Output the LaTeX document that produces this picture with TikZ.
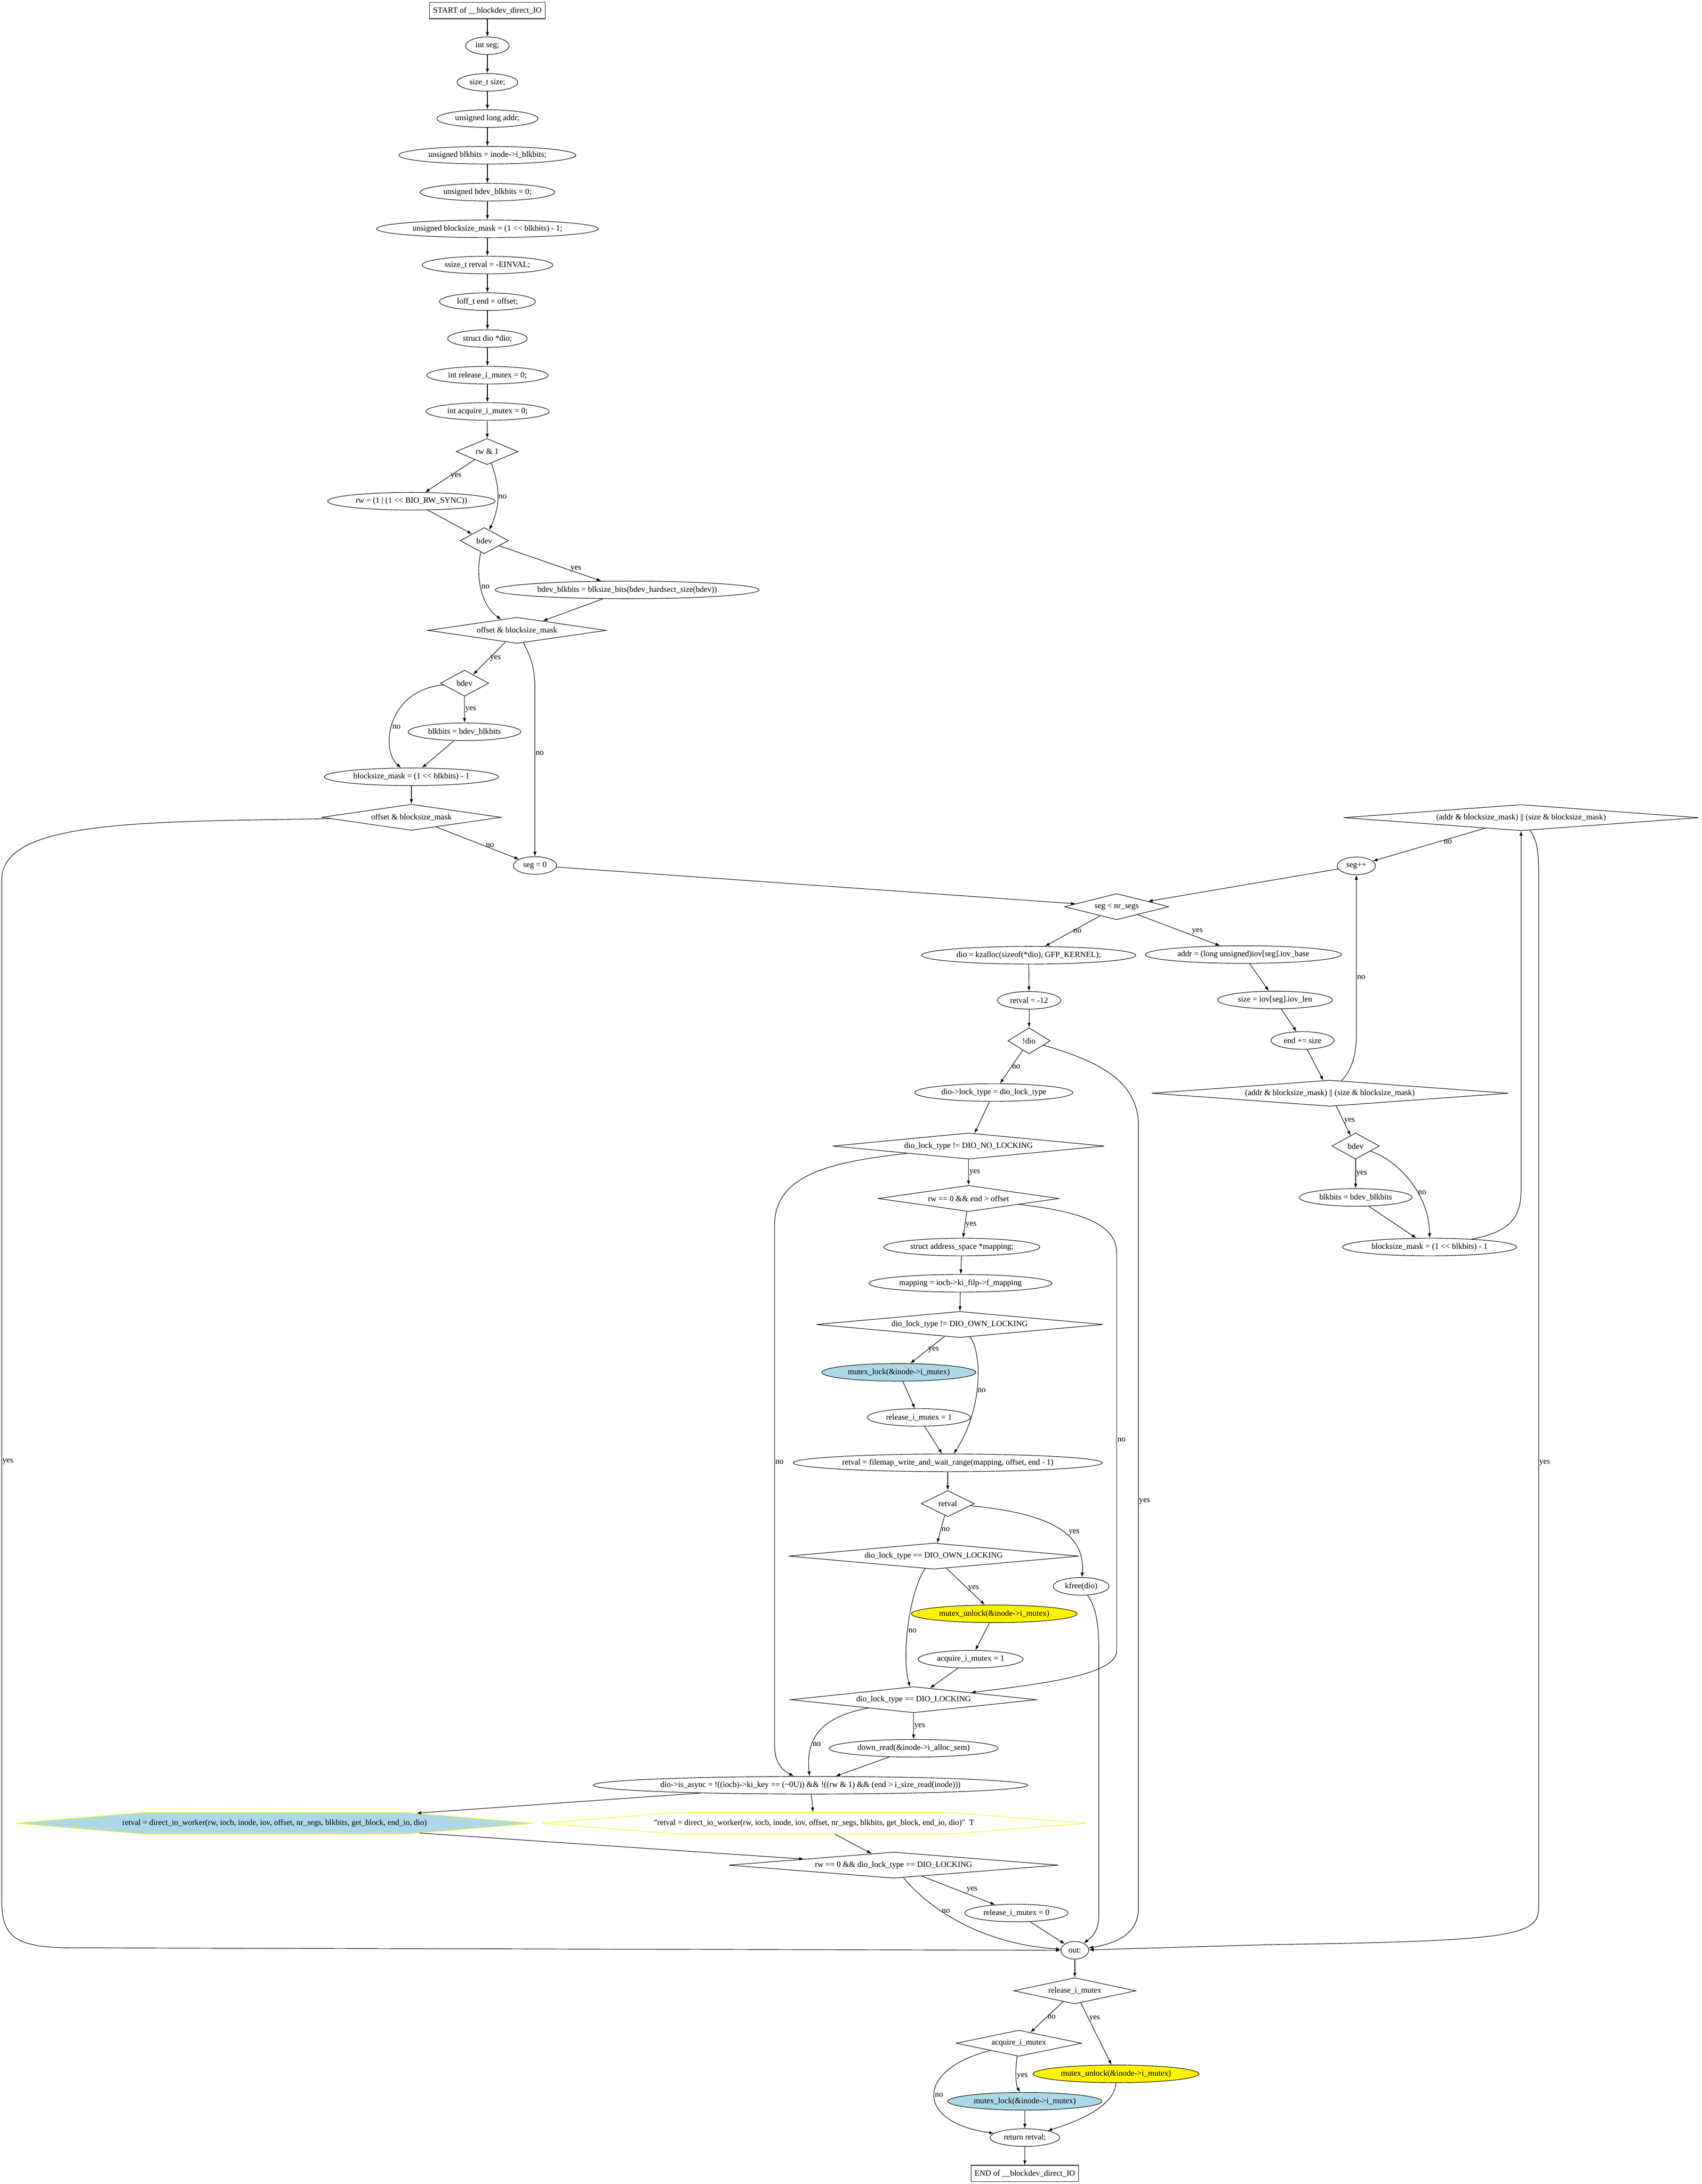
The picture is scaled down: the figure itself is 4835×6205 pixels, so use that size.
\documentclass[tikz,border=0pt]{standalone}
\usepackage{fontspec}
\setmainfont{Liberation Serif}[Ligatures=TeXOff]
\usetikzlibrary{shapes.geometric,shapes.symbols,arrows.meta}
\definecolor{lightblue}{HTML}{ADD8E6}

\begin{document}
\begin{tikzpicture}[-{Latex[length=10pt,width=7pt]}, x=0.75pt, y=-0.75pt, line width=1.1pt,
font=\fontsize{17.3}{20}\selectfont,
stmt/.style={ellipse, draw, inner xsep=7.5pt, inner ysep=2pt, minimum width=54pt, minimum height=37.5pt},
cond/.style={diamond, draw, aspect=1, inner sep=0pt, minimum height=55.5pt},
term/.style={rectangle, draw, inner xsep=7.5pt, minimum height=35pt},
lockcall/.style={stmt, fill=lightblue},
unlockcall/.style={stmt, fill=yellow},
hexa/.style={signal, signal to=west and east, draw=yellow, inner ysep=15pt, minimum height=46pt},
lbl/.style={inner sep=1pt}]
\useasboundingbox (0,0) rectangle (4835,6205);

\node[term] (start) at (1385,30) {START of \_\_blockdev\_direct\_IO};
\node[stmt] (iseg) at (1385,130) {int seg;};
\node[stmt] (isize) at (1385,234) {size\_t size;};
\node[stmt] (iaddr) at (1385,337) {unsigned long addr;};
\node[stmt] (iblk) at (1385,441) {unsigned blkbits = inode->i\_blkbits;};
\node[stmt] (ibdev) at (1385,546) {unsigned bdev\_blkbits = 0;};
\node[stmt] (imask) at (1385,650) {unsigned blocksize\_mask = (1 << blkbits) - 1;};
\node[stmt] (iret) at (1385,753) {ssize\_t retval = -EINVAL;};
\node[stmt] (iend) at (1385,857) {loff\_t end = offset;};
\node[stmt] (idio) at (1385,962) {struct dio *dio;};
\node[stmt] (irel) at (1385,1066) {int release\_i\_mutex = 0;};
\node[stmt] (iacq) at (1385,1169) {int acquire\_i\_mutex = 0;};
\node[cond, minimum width=132pt] (rwtest) at (1384,1283) {\makebox[0pt]{rw \& 1}};
\node[stmt] (rwsync) at (1169,1424) {rw = (1 | (1 << BIO\_RW\_SYNC))};
\node[cond, minimum width=103pt] (bdevA) at (1376,1536) {\makebox[0pt]{bdev}};
\node[stmt] (bdevset) at (1782,1676) {bdev\_blkbits = blksize\_bits(bdev\_hardsect\_size(bdev))};
\node[cond, minimum width=380pt] (offA) at (1469,1791) {\makebox[0pt]{offset \& blocksize\_mask}};
\node[cond, minimum width=103pt] (bdevB) at (1320,1941) {\makebox[0pt]{bdev}};
\node[stmt] (blkB) at (1320,2079) {blkbits = bdev\_blkbits};
\node[stmt] (maskB) at (1169,2207) {blocksize\_mask = (1 << blkbits) - 1};
\node[cond, minimum width=382pt] (offB) at (1169,2322) {\makebox[0pt]{offset \& blocksize\_mask}};
\node[stmt] (segzero) at (1520,2459) {seg = 0};
\node[cond, minimum width=222pt] (segloop) at (3173,2576) {\makebox[0pt]{seg < nr\_segs}};
\node[cond, minimum width=757pt] (alignB) at (4322,2323) {\makebox[0pt]{(addr \& blocksize\_mask) || (size \& blocksize\_mask)}};
\node[stmt] (segpp) at (3854,2460) {seg++};
\node[stmt] (addrset) at (3533,2712) {addr = (long unsigned)iov[seg].iov\_base};
\node[stmt] (sizeset) at (3623,2841) {size = iov[seg].iov\_len};
\node[stmt] (endadd) at (3701,2956) {end += size};
\node[cond, minimum width=760pt] (alignA) at (3779,3106) {\makebox[0pt]{(addr \& blocksize\_mask) || (size \& blocksize\_mask)}};
\node[cond, minimum width=101pt] (bdevC) at (3852,3256) {\makebox[0pt]{bdev}};
\node[stmt] (blkC) at (3852,3402) {blkbits = bdev\_blkbits};
\node[stmt] (maskC) at (4062,3543) {blocksize\_mask = (1 << blkbits) - 1};
\node[stmt] (kzalloc) at (2923,2714) {dio = kzalloc(sizeof(*dio), GFP\_KERNEL);};
\node[stmt] (retnomem) at (2924,2842) {retval = -12};
\node[cond, minimum width=90pt] (nodio) at (2924,2957) {\makebox[0pt]{!dio}};
\node[stmt] (locktype) at (2824,3104) {dio->lock\_type = dio\_lock\_type};
\node[cond, minimum width=579pt] (nolock) at (2752,3256) {\makebox[0pt]{dio\_lock\_type != DIO\_NO\_LOCKING}};
\node[cond, minimum width=385pt] (rwend) at (2752,3405) {\makebox[0pt]{rw == 0 \&\& end > offset}};
\node[stmt] (mapdecl) at (2733,3543) {struct address\_space *mapping;};
\node[stmt] (mapping) at (2729,3646) {mapping = iocb->ki\_filp->f\_mapping};
\node[cond, minimum width=611pt] (ownlock) at (2727,3763) {\makebox[0pt]{dio\_lock\_type != DIO\_OWN\_LOCKING}};
\node[lockcall] (lockA) at (2554,3899) {mutex\_lock(\&inode->i\_mutex)};
\node[stmt] (relone) at (2611,4027) {release\_i\_mutex = 1};
\node[stmt] (filemap) at (2693,4156) {retval = filemap\_write\_and\_wait\_range(mapping, offset, end - 1)};
\node[cond, minimum width=113pt] (retchk) at (2693,4272) {\makebox[0pt]{retval}};
\node[cond, minimum width=619pt] (ownlockB) at (2653,4421) {\makebox[0pt]{dio\_lock\_type == DIO\_OWN\_LOCKING}};
\node[stmt] (kfree) at (3072,4507) {kfree(dio)};
\node[unlockcall] (unlockA) at (2825,4585) {mutex\_unlock(\&inode->i\_mutex)};
\node[stmt] (acqone) at (2758,4714) {acquire\_i\_mutex = 1};
\node[cond, minimum width=524pt] (dlock) at (2596,4829) {\makebox[0pt]{dio\_lock\_type == DIO\_LOCKING}};
\node[stmt] (downread) at (2596,4967) {down\_read(\&inode->i\_alloc\_sem)};
\node[stmt] (async) at (2303,5072) {dio->is\_async = !((iocb)->ki\_key == (\textasciitilde 0U)) \&\& !((rw \& 1) \&\& (end > i\_size\_read(inode)))};
\node[hexa, fill=lightblue, inner xsep=277.5pt, signal pointer angle=9.56] (worker) at (780,5180) {\makebox[0pt]{retval = direct\_io\_worker(rw, iocb, inode, iov, offset, nr\_segs, blkbits, get\_block, end\_io, dio)}};
\node[hexa, inner xsep=289.5pt, signal pointer angle=9.07] (workerq) at (2313,5180) {\makebox[0pt]{"retval = direct\_io\_worker(rw, iocb, inode, iov, offset, nr\_segs, blkbits, get\_block, end\_io, dio)"\ \ T}};
\node[cond, minimum width=702pt] (rwlock) at (2539,5299) {\makebox[0pt]{rw == 0 \&\& dio\_lock\_type == DIO\_LOCKING}};
\node[stmt] (relzero) at (2888,5435) {release\_i\_mutex = 0};
\node[stmt] (outn) at (3054,5541) {out:};
\node[cond, minimum width=260pt] (relchk) at (3054,5656) {\makebox[0pt]{release\_i\_mutex}};
\node[cond, minimum width=267pt] (acqchk) at (2895,5805) {\makebox[0pt]{acquire\_i\_mutex}};
\node[unlockcall] (unlockB) at (3171,5892) {mutex\_unlock(\&inode->i\_mutex)};
\node[lockcall] (lockB) at (2912,5970) {mutex\_lock(\&inode->i\_mutex)};
\node[stmt] (ret) at (2912,6073) {return retval;};
\node[term] (finish) at (2912,6175) {END of \_\_blockdev\_direct\_IO};

\draw (start) -- (iseg);
\draw (iseg) -- (isize);
\draw (isize) -- (iaddr);
\draw (iaddr) -- (iblk);
\draw (iblk) -- (ibdev);
\draw (ibdev) -- (imask);
\draw (imask) -- (iret);
\draw (iret) -- (iend);
\draw (iend) -- (idio);
\draw (idio) -- (irel);
\draw (irel) -- (iacq);
\draw (iacq) -- (rwtest);
\draw (rwtest) -- node[lbl, right] {yes} (rwsync);
\draw (rwtest) to[out=-70, in=65] node[lbl, right] {no} (bdevA);
\draw (rwsync) -- (bdevA);
\draw (bdevA) -- node[lbl, pos=.75, above] {yes} (bdevset);
\draw (bdevA) .. controls (1352,1620) and (1360,1715) .. node[lbl, right] {no} (offA);
\draw (bdevset) -- (offA);
\draw (offA) -- node[lbl, right] {yes} (bdevB);
\draw (offA) .. controls (1510,1870) and (1520,1900) .. (1520,1960) -- node[lbl, pos=.38, right] {no} (segzero);
\draw (bdevB) -- node[lbl, right] {yes} (blkB);
\draw (bdevB) .. controls (1100,1960) and (1080,2130) .. node[lbl, pos=.55, right] {no} (maskB);
\draw (blkB) -- (maskB);
\draw (maskB) -- (offB);
\draw (offB) -- node[lbl, pos=.65, above] {no} (segzero);
\draw (offB) .. controls (400,2335) and (5,2330) .. (5,2500) -- node[lbl, pos=.57, right] {yes} (5,5400) .. controls (5,5500) and (40,5533) .. (200,5534) -- (outn);
\draw (segzero) -- (segloop);
\draw (segloop) -- node[lbl, right] {no} (kzalloc);
\draw (segloop) -- node[lbl, pos=.65, above right] {yes} (addrset);
\draw (addrset) -- (sizeset);
\draw (sizeset) -- (endadd);
\draw (endadd) -- (alignA);
\draw (alignA) .. controls (3840,3040) and (3854,3000) .. (3854,2940) -- node[lbl, pos=.36, right] {no} (segpp);
\draw (alignA) -- node[lbl, right] {yes} (bdevC);
\draw (bdevC) -- node[lbl, right] {yes} (blkC);
\draw (bdevC) .. controls (3980,3300) and (4062,3400) .. node[lbl, pos=.6, right] {no} (maskC);
\draw (blkC) -- (maskC);
\draw (maskC) .. controls (4290,3500) and (4322,3460) .. (4322,3380) -- (alignB);
\draw (alignB) -- node[lbl, pos=.33, below] {no} (segpp);
\draw (alignB) .. controls (4362,2380) and (4372,2400) .. (4372,2480) -- node[lbl, pos=.57, right] {yes} (4372,5420) .. controls (4372,5500) and (4300,5515) .. (3600,5525) -- (outn);
\draw (segpp) -- (segloop);
\draw (kzalloc) -- (retnomem);
\draw (retnomem) -- (nodio);
\draw (nodio) -- node[lbl, right] {no} (locktype);
\draw (nodio) .. controls (3100,3010) and (3235,3060) .. (3235,3200) -- node[lbl, pos=.48, right] {yes} (3235,5420) .. controls (3235,5490) and (3180,5520) .. (outn);
\draw (locktype) -- (nolock);
\draw (nolock) -- node[lbl, right] {yes} (rwend);
\draw (nolock) .. controls (2380,3300) and (2201,3330) .. (2201,3480) -- node[lbl, pos=.455, right] {no} (2201,4960) .. controls (2201,5010) and (2225,5030) .. (async);
\draw (rwend) -- node[lbl, right] {yes} (mapdecl);
\draw (rwend) .. controls (3050,3440) and (3173,3470) .. (3173,3560) -- node[lbl, pos=.47, right] {no} (3173,4690) .. controls (3173,4760) and (2950,4785) .. (dlock);
\draw (mapdecl) -- (mapping);
\draw (mapping) -- (ownlock);
\draw (ownlock) -- node[lbl, right] {yes} (lockA);
\draw (ownlock) .. controls (2790,3840) and (2795,4000) .. node[lbl, pos=.55, right] {no} (filemap);
\draw (lockA) -- (relone);
\draw (relone) -- (filemap);
\draw (filemap) -- (retchk);
\draw (retchk) -- node[lbl, right] {no} (ownlockB);
\draw (retchk) .. controls (2990,4300) and (3085,4360) .. node[lbl, pos=.6, above right] {yes} (kfree);
\draw (ownlockB) -- node[lbl, pos=.55, right] {yes} (unlockA);
\draw (ownlockB) .. controls (2585,4520) and (2560,4700) .. node[lbl, pos=.55, right] {no} (dlock);
\draw (kfree) .. controls (3110,4560) and (3122,4600) .. (3122,4680) -- (3122,5440) .. controls (3122,5490) and (3100,5505) .. (outn);
\draw (unlockA) -- (acqone);
\draw (acqone) -- (dlock);
\draw (dlock) -- node[lbl, right] {yes} (downread);
\draw (dlock) .. controls (2320,4880) and (2290,4950) .. node[lbl, pos=.65, right] {no} (async);
\draw (downread) -- (async);
\draw (async) -- (workerq);
\draw (async) -- (worker);
\draw (worker) -- (rwlock);
\draw (workerq) -- (rwlock);
\draw (rwlock) -- node[lbl, pos=.6, above right] {yes} (relzero);
\draw (rwlock) .. controls (2620,5400) and (2760,5520) .. node[lbl, pos=.4, right] {no} (outn);
\draw (relzero) -- (outn);
\draw (outn) -- (relchk);
\draw (relchk) -- node[lbl, right] {no} (acqchk);
\draw (relchk) -- node[lbl, pos=.25, right] {yes} (unlockB);
\draw (acqchk) .. controls (2885,5880) and (2885,5920) .. node[lbl, right] {yes} (lockB);
\draw (acqchk) .. controls (2600,5880) and (2600,6030) .. node[lbl, right] {no} (ret);
\draw (lockB) -- (ret);
\draw (unlockB) .. controls (3170,5960) and (3120,6010) .. (ret);
\draw (ret) -- (finish);
\end{tikzpicture}
\end{document}
